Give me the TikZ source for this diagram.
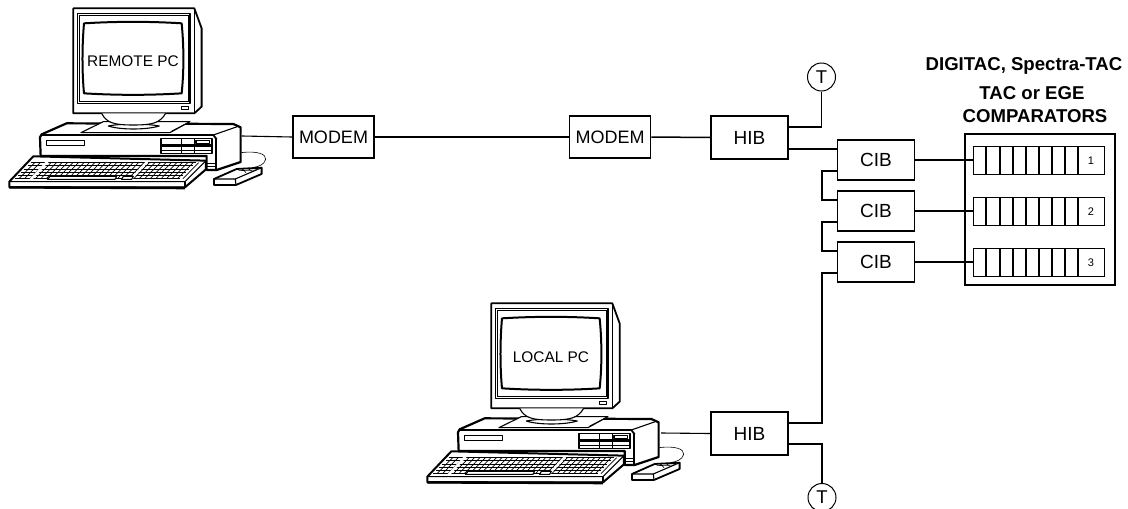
\documentclass[tikz,border=0pt]{standalone}
\usepackage{fontspec}
\setmainfont{Liberation Sans}
\tikzset{
  px/.style={x=1pt,y=-1pt},
  box/.style={draw,line width=1.7pt,minimum width=#1,inner sep=0pt,font=\fontsize{19}{22}\selectfont},
  box/.default=77pt,
  term/.style={draw,circle,line width=1pt,minimum size=28pt,inner sep=0pt,font=\fontsize{18.5}{20}\selectfont},
  wire/.style={line width=1.5pt},
  thin wire/.style={line width=1.1pt},
  heavy/.style={line width=1.8pt,line join=round},
  med/.style={line width=1.1pt,line join=round},
  fine/.style={line width=.6pt},
  title/.style={font=\bfseries\fontsize{18.6}{20}\selectfont,inner sep=0pt},
  slot/.style={draw,line width=1pt,minimum width=131pt,minimum height=28pt,inner sep=0pt},
  screen text/.style={font=\fontsize{15.4}{17}\selectfont,inner sep=0pt}
}
% computer drawn in units of a third of a pixel
\newcommand{\pcdraw}[2]{%
\begin{scope}[shift={(#1,#2)},x=.3333pt,y=-.3333pt]
 % monitor
 \draw[heavy,fill=white] (220,25) -- (583,25) -- (605,85) -- (605,320) -- (583,340) -- (220,340) -- cycle;
 \draw[med] (583,25) -- (583,340);
 \draw[med] (232,40) rectangle (570,310);
 \draw[fine] (238,46) rectangle (564,304);
 \draw[heavy,line width=2pt,fill=white] (252,70) .. controls (350,64) and (450,64) .. (545,70) .. controls (552,140) and (552,215) .. (545,280) .. controls (450,286) and (350,286) .. (252,280) .. controls (246,215) and (246,140) .. (252,70) -- cycle;
 \draw[med,fill=white] (544,320) rectangle (565,329);
 % base of the computer
 \draw[heavy,line width=2.2pt,fill=white] (122,468) -- (120,412) -- (125,403) -- (200,370) -- (700,372) -- (722,382) -- (722,486) -- (650,510) -- (620,510) -- (620,468) -- cycle;
 \draw[heavy] (125,405) -- (640,405) -- (650,418);
 \draw[med] (640,405) -- (712,380);
 \draw[heavy] (648,414) -- (648,510);
 \draw[med] (620,490) -- (648,490) (620,500) -- (648,500);
 \draw[med] (140,421) rectangle (253,436);
 \draw[med] (483,416) rectangle (636,460);
 \fill (487,431) rectangle (632,441);
 \draw[fine] (543,416) -- (543,460) (582,416) -- (582,460) (483,450) -- (636,450);
 \draw[med] (588,422) rectangle (628,430);
 % stand and neck
 \draw[med,fill=white] (243,398) -- (310,365) -- (570,365) -- (510,398) -- cycle;
 \draw[fine] (515,393) -- (562,369);
 \draw[med,fill=white] (325,378) .. controls (370,370) and (430,370) .. (478,378) .. controls (440,390) and (360,390) .. (325,378) -- cycle;
 \draw[med,fill=white] (305,340) .. controls (320,370) and (345,375) .. (400,375) .. controls (455,375) and (480,370) .. (497,340);
 % mouse with its cord
 \draw[fine] (724,458) .. controls (770,452) and (800,462) .. (797,478) .. controls (793,495) and (775,500) .. (757,503);
 \draw[heavy,fill=white] (642,537) -- (710,507) -- (785,503) -- (785,522) -- (708,555) -- (642,555) -- cycle;
 \draw[med] (642,537) -- (706,537) -- (708,555);
 \draw[med] (706,537) -- (785,503);
 \draw[fine] (716,512) -- (770,510) (726,505) -- (738,518) (745,505) -- (755,514);
 % keyboard
 \draw[heavy,line width=2pt,fill=white] (28,545) -- (100,469) -- (618,482) -- (618,508) -- (555,562) -- (28,562) -- cycle;
 \draw[med] (28,545) -- (555,545) -- (618,482);
 \draw[heavy] (555,545) -- (555,562);
 \draw[heavy,line width=2.6pt] (28,562) -- (555,564);
 \foreach \r [evaluate=\r as \yy using 488+\r*9.6, evaluate=\r as \xa using 92-\r*9.4] in {0,...,5} {
   \draw[line width=.8pt] (\xa,\yy) -- (\xa+495,\yy);
 }
 \foreach \i in {0,...,30} {
   \draw[line width=.7pt] (104+\i*16.4,488) -- (57+\i*16.4,536);
 }
 \fill[white] (146,486) -- (136,486) -- (88,538) -- (98,538) -- cycle;
 \fill[white] (445,486) -- (436,486) -- (388,538) -- (397,538) -- cycle;
 \draw[med,fill=white] (150,529) -- (350,529) -- (345,538) -- (143,538) -- cycle;
 \draw[med,fill=white] (370,529) -- (400,529) -- (395,538) -- (365,538) -- cycle;
\end{scope}}
\begin{document}
\begin{tikzpicture}[px]
\useasboundingbox (0,0) rectangle (1128,509);
% computers
\pcdraw{0}{0}
\pcdraw{418}{295}
\node[screen text] (remote) at (133,61) {REMOTE PC};
\node[screen text] (local) at (551,357) {LOCAL PC};
\coordinate (rport) at (242,136);
\coordinate (lport) at (661,433);
% boxes
\node[box=81pt,minimum height=42pt,font=\fontsize{18}{20}\selectfont] (m1) at (333.5,137) {MODEM};
\node[box=81pt,minimum height=42pt,font=\fontsize{18}{20}\selectfont] (m2) at (610,137) {MODEM};
\node[box,minimum height=43pt] (h1) at (749.5,137.5) {HIB};
\node[box,minimum height=43pt] (h2) at (749.5,433.5) {HIB};
\node[box,minimum height=40pt] (c1) at (876,160) {CIB};
\node[box,minimum height=40pt] (c2) at (876,211) {CIB};
\node[box,minimum height=40pt] (c3) at (876,262) {CIB};
\node[term] (t1) at (821.5,77) {T};
\node[term] (t2) at (822,497.5) {T};
% comparators
\node[draw,line width=1.7pt,minimum width=150pt,minimum height=151pt,inner sep=0pt] (cmp) at (1040,209.5) {};
\foreach \n/\y/\t in {s1/160/1,s2/211/2,s3/262/3}{
  \node[slot] (\n) at (1038.5,\y) {};
  \foreach \d in {986,1000,1013,1026,1039,1052,1065,1078}
    \draw[line width=1.1pt] (\d,\y-14) -- (\d,\y+14);
  \node[font=\fontsize{11}{12}\selectfont,inner sep=0pt] at (1091,\y+.5) {\t};
}
% title
\node[title] (ta) at (1024,66) {DIGITAC, Spectra-TAC};
\node[title] (tb) at (1032,93) {TAC or EGE};
\node[title] (tc) at (1035,116) {COMPARATORS};
% connectors
\draw[thin wire] (rport) -- (m1.west);
\draw[thin wire] (m1.east) -- (m2.west);
\draw[wire] (m2.east) -- (h1.west);
\draw[thin wire] (lport) -- (h2.west);
\draw[wire] (h1.east |- 0,127) -| (t1.south);
\draw[thin wire] (h1.east |- 0,149) -- (c1.west |- 0,149);
\draw[wire] (c1.east) -- (s1.west);
\draw[wire] (c2.east) -- (s2.west);
\draw[wire] (c3.east) -- (s3.west);
\draw[wire] (c1.west |- 0,171) -| (822,200) -- (c2.west |- 0,200);
\draw[wire] (c2.west |- 0,222) -| (822,251) -- (c3.west |- 0,251);
\draw[thin wire] (c3.west |- 0,273) -| (822,423) -- (h2.east |- 0,423);
\draw[wire] (h2.east |- 0,444) -| (t2.north);
\end{tikzpicture}
\end{document}
